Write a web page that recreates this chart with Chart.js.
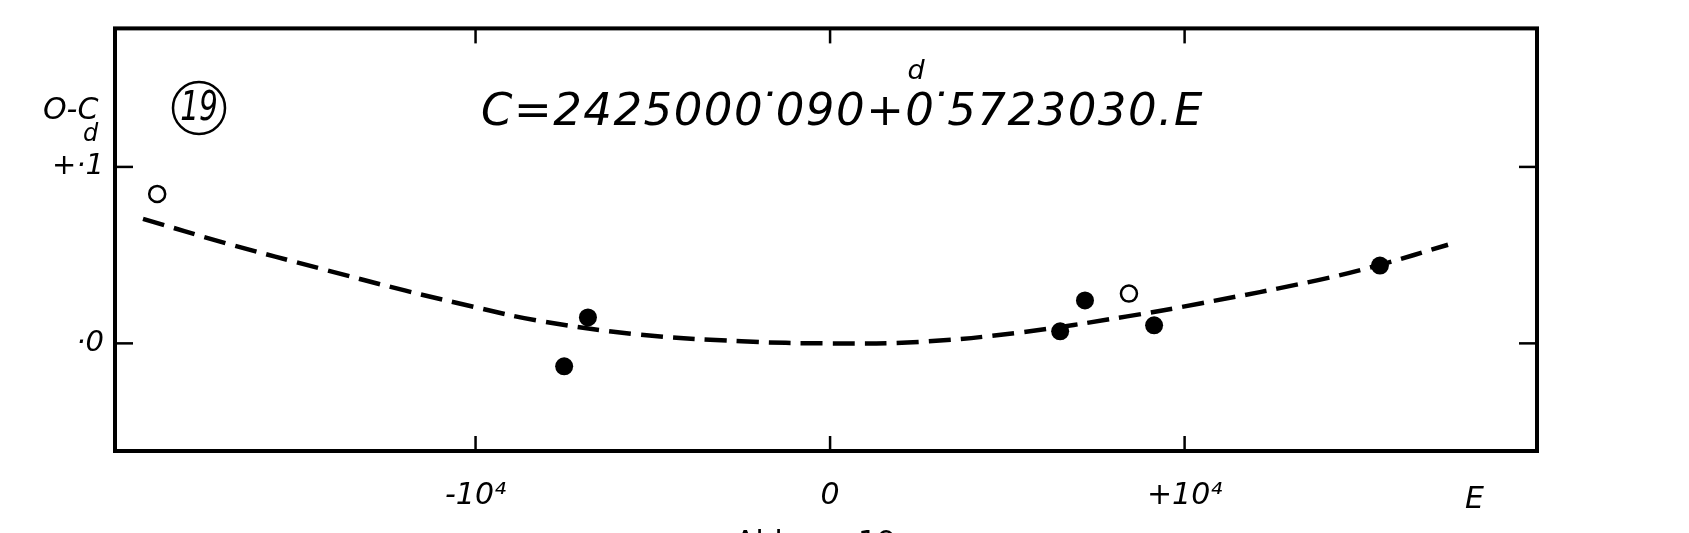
<!DOCTYPE html>
<html><head><meta charset="utf-8">
<script src="https://cdn.jsdelivr.net/npm/chart.js@4.4.0/dist/chart.umd.min.js"></script>
<style>html,body{margin:0;padding:0;background:#fff;overflow:hidden}#wrap{width:1689px;height:533px}</style>
</head><body><div id="wrap"><canvas id="c" width="1689" height="533"></canvas></div>
<script>
// ---- data ----
const xTicks = [-10000, 0, 10000];
const xTickLabels = ['-10⁴', '0', '+10⁴'];
const yTicks = [0, 0.1];
const yTickLabels = ['·0', '+·1'];
const filledE  = [-7500, -6830, 6490, 7190, 9140, 15510];
const filledOC = [-0.0130, 0.0147, 0.0068, 0.0243, 0.0102, 0.0441];
const openE  = [-18980, 8430];
const openOC = [0.0847, 0.0282];
const curveE  = [-19380, -17000, -14300, -12000, -10000, -8270, -5440, -2500, 0, 2500, 5360, 8380, 10440, 13800, 15510, 17430];
const curveOC = [0.0706, 0.0565, 0.0420, 0.0300, 0.0205, 0.0130, 0.0051, 0.0012, 0.0000, 0.0008, 0.0062, 0.0153, 0.0226, 0.0360, 0.0445, 0.0559];
const xRange = [-20170, 19940];
const yRange = [-0.061, 0.1785];
const equationParts = ['C=2425000', '090+0', '5723030.E'];  // joined by raised decimal dots

const FONT = "'DejaVu Sans', sans-serif";
Chart.defaults.font.family = FONT;
Chart.defaults.color = '#000';

const decor = {
  id: 'decor',
  afterDraw(chart) {
    const c = chart.ctx, a = chart.chartArea;
    const xs = chart.scales.x, ys = chart.scales.y;
    c.save();
    c.strokeStyle = '#000'; c.fillStyle = '#000';
    // frame
    c.lineWidth = 4;
    c.strokeRect(a.left, a.top, a.right - a.left, a.bottom - a.top);
    // inward ticks
    c.lineWidth = 2.5;
    xTicks.forEach(v => {
      const px = xs.getPixelForValue(v);
      c.beginPath(); c.moveTo(px, a.bottom); c.lineTo(px, a.bottom - 15); c.stroke();
      c.beginPath(); c.moveTo(px, a.top); c.lineTo(px, a.top + 15); c.stroke();
    });
    yTicks.forEach(v => {
      const py = ys.getPixelForValue(v);
      c.beginPath(); c.moveTo(a.left, py); c.lineTo(a.left + 18, py); c.stroke();
      c.beginPath(); c.moveTo(a.right, py); c.lineTo(a.right - 18, py); c.stroke();
    });
    // texts
    c.textBaseline = 'alphabetic';
    c.textAlign = 'left';
    c.font = 'italic 30px ' + FONT;
    c.fillText('O-C', 43, 119);
    c.font = 'italic 24px ' + FONT;
    c.fillText('d', 83, 141);
    // circled number
    c.lineWidth = 2.5;
    c.beginPath(); c.arc(199, 108, 26, 0, Math.PI * 2); c.stroke();
    c.save();
    c.translate(199, 110);
    c.scale(0.74, 1);
    c.font = 'italic 40px ' + FONT;
    c.textAlign = 'center'; c.textBaseline = 'middle';
    c.fillText('19', 0, 0);
    c.restore();
    // equation
    c.textAlign = 'left'; c.textBaseline = 'alphabetic';
    const fs = 45;
    c.font = 'italic ' + fs + 'px ' + FONT;
    if ('letterSpacing' in c) c.letterSpacing = '1.5px';
    let cx = 481; const base = 125;
    let supX = 0;
    equationParts.forEach((p, i) => {
      c.fillText(p, cx, base);
      cx += c.measureText(p).width;
      if (i < equationParts.length - 1) {
        c.textAlign = 'center';
        c.fillText('˙', cx + fs * 0.06, base);
        c.textAlign = 'left';
        if (i === 1) supX = cx;
        cx += fs * 0.26;
      }
    });
    if ('letterSpacing' in c) c.letterSpacing = '0px';
    c.font = 'italic 27px ' + FONT;
    c.fillText('d', supX - 28, 79);
    // axis name
    c.font = 'italic 30px ' + FONT;
    c.fillText('E', 1465, 508);
    // cut caption at bottom edge
    c.font = '30px ' + FONT;
    c.fillText('Abb.', 735, 552);
    c.fillText('19', 858, 552);
    c.restore();
  }
};

new Chart(document.getElementById('c'), {
  type: 'scatter',
  data: {
    datasets: [
      { label: 'fit', data: curveE.map((e, i) => ({x: e, y: curveOC[i]})), showLine: true,
        borderColor: '#000', borderWidth: 4.5, borderDash: [22, 10], pointRadius: 0,
        tension: 0.4, fill: false, order: 3 },
      { label: 'filled', data: filledE.map((e, i) => ({x: e, y: filledOC[i]})),
        pointRadius: 9, pointBackgroundColor: '#000', pointBorderColor: '#000', pointBorderWidth: 0, order: 1 },
      { label: 'open', data: openE.map((e, i) => ({x: e, y: openOC[i]})),
        pointRadius: 8, pointBackgroundColor: '#fff', pointBorderColor: '#000', pointBorderWidth: 2.5, order: 1 }
    ]
  },
  options: {
    responsive: false, animation: false, devicePixelRatio: 1,
    layout: { padding: { left: 0, right: 152, top: 27, bottom: 0 } },
    plugins: { legend: { display: false }, tooltip: { enabled: false } },
    scales: {
      x: {
        type: 'linear', min: xRange[0], max: xRange[1], position: 'bottom',
        afterBuildTicks: s => { s.ticks = xTicks.map(v => ({ value: v })); },
        afterFit: s => { s.height = 82; },
        grid: { display: false, drawTicks: false }, border: { display: false },
        ticks: {
          callback: v => { const i = xTicks.indexOf(v); return i >= 0 ? xTickLabels[i] : ''; },
          padding: 27, autoSkip: false, maxRotation: 0, color: '#000',
          font: { size: 30, style: 'italic', family: FONT }
        }
      },
      y: {
        type: 'linear', min: yRange[0], max: yRange[1], position: 'left',
        afterBuildTicks: s => { s.ticks = yTicks.map(v => ({ value: v })); },
        afterFit: s => { s.width = 115; },
        grid: { display: false, drawTicks: false }, border: { display: false },
        ticks: {
          callback: v => { const i = yTicks.indexOf(v); return i >= 0 ? yTickLabels[i] : ''; },
          padding: 11, autoSkip: false, color: '#000',
          font: { size: 29, style: 'italic', family: FONT }
        }
      }
    }
  },
  plugins: [decor]
});
</script></body></html>
